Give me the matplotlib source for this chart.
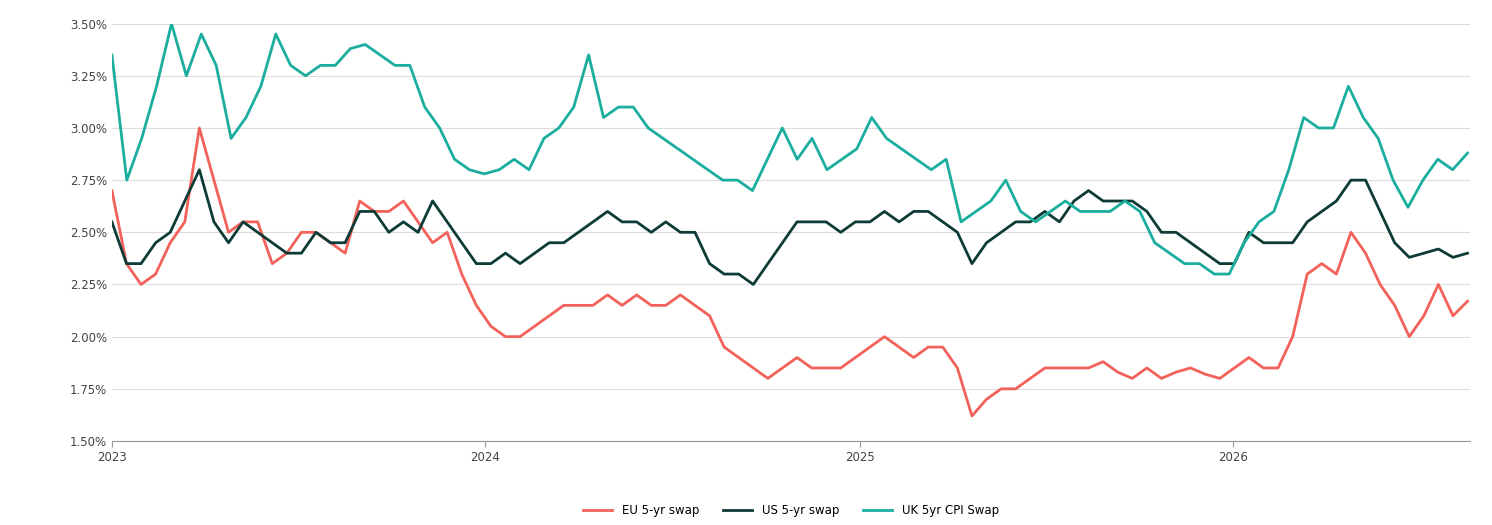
import matplotlib
matplotlib.use("Agg")
import matplotlib.pyplot as plt
import matplotlib.dates as mdates
import matplotlib.ticker as mt
import pandas as pd

eu = [2.7,2.35,2.25,2.3,2.45,2.55,3.0,2.75,2.5,2.55,2.55,2.35,2.4,2.5,2.5,2.45,2.4,2.65,2.6,2.6,2.65,2.55,2.45,2.5,2.3,2.15,2.05,2.0,2.0,2.05,2.1,2.15,2.15,2.15,2.2,2.15,2.2,2.15,2.15,2.2,2.15,2.1,1.95,1.9,1.85,1.8,1.85,1.9,1.85,1.85,1.85,1.9,1.95,2.0,1.95,1.9,1.95,1.95,1.85,1.62,1.7,1.75,1.75,1.8,1.85,1.85,1.85,1.85,1.88,1.83,1.8,1.85,1.8,1.83,1.85,1.82,1.8,1.85,1.9,1.85,1.85,2.0,2.3,2.35,2.3,2.5,2.4,2.25,2.15,2.0,2.1,2.25,2.1,2.17]
us = [2.55,2.35,2.35,2.45,2.5,2.65,2.8,2.55,2.45,2.55,2.5,2.45,2.4,2.4,2.5,2.45,2.45,2.6,2.6,2.5,2.55,2.5,2.65,2.55,2.45,2.35,2.35,2.4,2.35,2.4,2.45,2.45,2.5,2.55,2.6,2.55,2.55,2.5,2.55,2.5,2.5,2.35,2.3,2.3,2.25,2.35,2.45,2.55,2.55,2.55,2.5,2.55,2.55,2.6,2.55,2.6,2.6,2.55,2.5,2.35,2.45,2.5,2.55,2.55,2.6,2.55,2.65,2.7,2.65,2.65,2.65,2.6,2.5,2.5,2.45,2.4,2.35,2.35,2.5,2.45,2.45,2.45,2.55,2.6,2.65,2.75,2.75,2.6,2.45,2.38,2.4,2.42,2.38,2.4]
uk = [3.35,2.75,2.95,3.2,3.5,3.25,3.45,3.3,2.95,3.05,3.2,3.45,3.3,3.25,3.3,3.3,3.38,3.4,3.35,3.3,3.3,3.1,3.0,2.85,2.8,2.78,2.8,2.85,2.8,2.95,3.0,3.1,3.35,3.05,3.1,3.1,3.0,2.95,2.9,2.85,2.8,2.75,2.75,2.7,2.85,3.0,2.85,2.95,2.8,2.85,2.9,3.05,2.95,2.9,2.85,2.8,2.85,2.55,2.6,2.65,2.75,2.6,2.55,2.6,2.65,2.6,2.6,2.6,2.65,2.6,2.45,2.4,2.35,2.35,2.3,2.3,2.45,2.55,2.6,2.8,3.05,3.0,3.0,3.2,3.05,2.95,2.75,2.62,2.75,2.85,2.8,2.88]

def dates(v):
    return pd.date_range("2023-01-01", "2026-08-18", periods=len(v))

fig, ax = plt.subplots(figsize=(14.92, 5.25), dpi=100)
fig.subplots_adjust(left=0.075, right=0.985, top=0.955, bottom=0.16)
ax.plot(dates(eu), eu, color="#F2625A", lw=2.0, label="EU 5-yr swap")
ax.plot(dates(us), us, color="#0D3B36", lw=2.0, label="US 5-yr swap")
ax.plot(dates(uk), uk, color="#1BAE9E", lw=2.0, label="UK 5yr CPI Swap")
ax.set_ylim(1.5, 3.5)
ax.set_xlim(pd.Timestamp("2023-01-01"), pd.Timestamp("2026-08-20"))
ax.yaxis.set_major_locator(mt.MultipleLocator(0.25))
ax.yaxis.set_major_formatter(mt.FuncFormatter(lambda v, p: f"{v:.2f}%"))
ax.xaxis.set_major_locator(mdates.YearLocator())
ax.xaxis.set_major_formatter(mdates.DateFormatter("%Y"))
ax.grid(axis="y", color="#dddddd", lw=0.8)
ax.set_axisbelow(True)
for s in ["top", "right", "left"]:
    ax.spines[s].set_visible(False)
ax.spines["bottom"].set_color("#999999")
ax.tick_params(axis="both", labelsize=8.5, colors="#444444", length=0)
ax.tick_params(axis="x", length=4, color="#999999")
ax.legend(loc="upper center", bbox_to_anchor=(0.5, -0.125), ncol=3, frameon=False, fontsize=8.5, handlelength=2.5)
fig.savefig("out.png")
